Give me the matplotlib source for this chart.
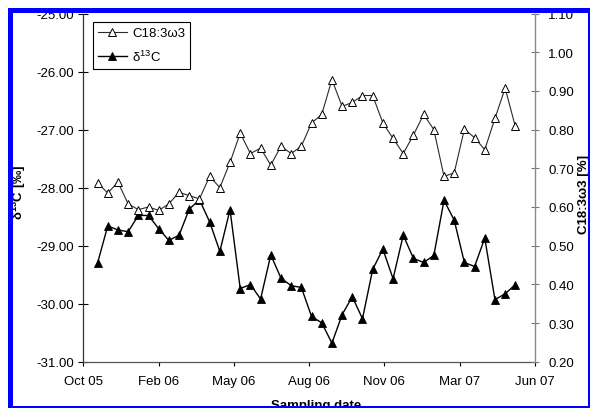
import matplotlib
matplotlib.use('Agg')
import matplotlib.pyplot as plt
import numpy as np
from matplotlib.patches import Rectangle

plt.rcParams['font.family'] = ['Liberation Sans', 'DejaVu Sans']
plt.rcParams['mathtext.fontset'] = 'custom'
plt.rcParams['mathtext.rm'] = 'Liberation Sans'
plt.rcParams['mathtext.it'] = 'Liberation Sans:italic'
plt.rcParams['mathtext.bf'] = 'Liberation Sans:bold'

# ---------------- data ----------------
sample_dates = ['2005-10-20', '2005-11-03', '2005-11-17', '2005-12-01', '2005-12-15',
                '2005-12-29', '2006-01-12', '2006-01-26', '2006-02-09', '2006-02-23',
                '2006-03-09', '2006-03-23', '2006-04-06', '2006-04-20', '2006-05-04',
                '2006-05-18', '2006-06-01', '2006-06-15', '2006-06-29', '2006-07-13',
                '2006-07-27', '2006-08-10', '2006-08-24', '2006-09-07', '2006-09-21',
                '2006-10-05', '2006-10-19', '2006-11-02', '2006-11-16', '2006-11-30',
                '2006-12-14', '2006-12-28', '2007-01-11', '2007-01-25', '2007-02-08',
                '2007-02-22', '2007-03-08', '2007-03-22', '2007-04-05', '2007-04-19',
                '2007-05-03', '2007-05-17']

d13c = [-29.30, -28.66, -28.73, -28.76, -28.48, -28.48, -28.71, -28.91, -28.82, -28.37,
        -28.21, -28.59, -29.10, -28.38, -29.74, -29.67, -29.92, -29.16, -29.56, -29.69,
        -29.72, -30.22, -30.33, -30.68, -30.19, -29.88, -30.26, -29.41, -29.06, -29.57,
        -28.82, -29.22, -29.29, -29.17, -28.22, -28.56, -29.29, -29.36, -28.87, -29.93,
        -29.83, -29.67]

c18_3w3 = [0.662, 0.636, 0.664, 0.608, 0.593, 0.600, 0.591, 0.608, 0.638, 0.629,
           0.621, 0.679, 0.650, 0.715, 0.791, 0.738, 0.752, 0.708, 0.757, 0.738,
           0.757, 0.817, 0.839, 0.929, 0.860, 0.870, 0.888, 0.888, 0.817, 0.777,
           0.738, 0.786, 0.839, 0.800, 0.679, 0.688, 0.801, 0.779, 0.748, 0.829,
           0.907, 0.808]

x_tick_labels = ['Oct 05', 'Feb 06', 'May 06', 'Aug 06', 'Nov 06', 'Mar 07', 'Jun 07']
left_ticks = [-31.0, -30.0, -29.0, -28.0, -27.0, -26.0, -25.0]
right_ticks = [0.20, 0.30, 0.40, 0.50, 0.60, 0.70, 0.80, 0.90, 1.00, 1.10]

# ---------------- layout ----------------
W, H = 590, 410
fig = plt.figure(figsize=(W / 100, H / 100), dpi=100)
fig.patch.set_facecolor('white')


def fx(px):
    return px / W


def fy(py):
    return 1 - py / H


ax_l, ax_r, ax_t, ax_b = 83.3, 535.0, 14.5, 362.7
ax = fig.add_axes([fx(ax_l), fy(ax_b), (ax_r - ax_l) / W, (ax_b - ax_t) / H])
ax2 = ax.twinx()

x = np.arange(len(sample_dates))
x_lo, x_hi = -1.40, 42.93
FS = 9.5

l1, = ax.plot(x, d13c, color='black', lw=1.0, marker='^', ms=5.4,
              mfc='black', mec='black', mew=0.6, label='δ$^{\\mathrm{13}}$C', zorder=3)
l2, = ax2.plot(x, c18_3w3, color='#2a2a2a', lw=0.8, marker='^', ms=5.4,
               mfc='white', mec='black', mew=0.7, label='C18:3ω3', zorder=3)

ax.set_xlim(x_lo, x_hi)
ax.set_ylim(-31, -25)
ax2.set_ylim(0.20, 1.10)

ax.set_xticks(np.linspace(x_lo, x_hi, len(x_tick_labels)))
ax.set_xticklabels(x_tick_labels, fontsize=FS)
ax.set_yticks(left_ticks)
ax.set_yticklabels([f'{v:.2f}' for v in left_ticks], fontsize=FS)
ax2.set_yticks(right_ticks)
ax2.set_yticklabels([f'{v:.2f}' for v in right_ticks], fontsize=FS)

ax.tick_params(axis='y', direction='inout', length=7.5, width=0.8, pad=3, colors='black')
ax.tick_params(axis='x', direction='out', length=2.6, width=0.8, pad=7, colors='black')
ax2.tick_params(axis='y', direction='inout', length=5.8, width=0.8, pad=6.5,
                colors='#777777', labelcolor='black')

for s in ['top', 'right']:
    ax.spines[s].set_visible(False)
for s in ['top', 'left', 'bottom']:
    ax2.spines[s].set_visible(False)
ax.spines['left'].set_color('#333333')
ax.spines['left'].set_linewidth(0.9)
ax.spines['bottom'].set_color('#555555')
ax.spines['bottom'].set_linewidth(0.9)
ax2.spines['right'].set_color('#8a8a8a')
ax2.spines['right'].set_linewidth(1.0)

leg = ax2.legend(handles=[l2, l1], loc='upper left',
                 bbox_to_anchor=(fx(93), fy(22.7)), bbox_transform=fig.transFigure,
                 borderaxespad=0, borderpad=0.4, handletextpad=0.4,
                 labelspacing=0.7, handlelength=2.15, fontsize=FS,
                 fancybox=False, shadow=False, framealpha=1)
leg.get_frame().set_edgecolor('black')
leg.get_frame().set_linewidth(0.8)

# axis titles
fig.text(fx(19), fy(192), 'δ$^{\\mathbf{13}}$C [‰]', rotation=90, ha='center', va='center',
         fontsize=FS, fontweight='bold')
fig.text(fx(584), fy(194), 'C18:3ω3 [%]', rotation=90, ha='center', va='center',
         fontsize=FS, fontweight='bold')
fig.text(fx(316), fy(400), 'Sampling date', ha='center', va='top',
         fontsize=FS, fontweight='bold')

# blue frame (cropped screenshot border)
blue = '#0000ff'


def rect(x0, y0, x1, y1, color):
    fig.add_artist(Rectangle((fx(x0), fy(y1)), (x1 - x0) / W, (y1 - y0) / H,
                             transform=fig.transFigure, facecolor=color,
                             edgecolor='none', zorder=20))


rect(0, 0, W, 9.3, 'white')
rect(0, 0, 7.5, H, 'white')
rect(589.6, 0, W, H, 'white')
rect(0, 409.4, W, H, 'white')
rect(7.5, 9.3, 589.6, 14.0, blue)
rect(7.5, 9.3, 12.8, 409.4, blue)
rect(587.6, 9.3, 589.6, 409.4, blue)
rect(7.5, 407.4, 589.6, 409.4, blue)

fig.savefig('out.png', dpi=100)
